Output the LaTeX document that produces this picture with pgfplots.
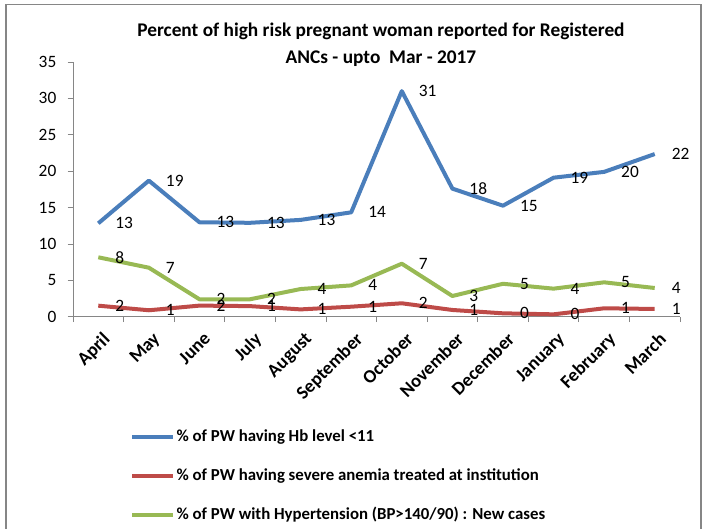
\documentclass[border=0pt]{standalone}
\usepackage{pgfplots}
\pgfplotsset{compat=1.18}
\usepackage{fontspec}
\setmainfont{Carlito}
\definecolor{cblue}{HTML}{4A7EBB}
\definecolor{cred}{HTML}{BE4B48}
\definecolor{cgreen}{HTML}{98B954}
\definecolor{caxis}{HTML}{868686}
\begin{document}
\begin{tikzpicture}
\path[use as bounding box] (-54.75pt,-158.5pt) rectangle (471.75pt,237.5pt);
\draw[caxis, line width=0.8pt] (-50.25pt,-160pt) -- (-50.25pt,233.8pt) -- (471pt,233.8pt) -- (471pt,-160pt);
\node[font=\fontsize{14.5}{20}\selectfont\bfseries, align=center] at (231pt,204pt)
  {Percent of high risk pregnant woman reported for Registered\\ANCs - upto\ \ Mar - 2017};
\begin{axis}[
  at={(0,0)}, anchor=south west,
  scale only axis, width=455.25pt, height=191pt,
  xmin=-0.5, xmax=11.5, ymin=0, ymax=35,
  axis x line*=bottom, axis y line*=left,
  axis line style={caxis, line width=0.6pt},
  tick style={caxis, line width=0.6pt},
  tick align=outside, major tick length=4pt,
  ytick={0,5,...,35},
  xtick={-0.5,0.5,...,11.5}, xticklabels={},
  extra x ticks={0,1,...,11},
  extra x tick labels={April,May,June,July,August,September,October,November,December,January,February,March},
  extra x tick style={major tick length=0pt, tick style={draw=none},
    tick label style={rotate=45, anchor=north east, font=\fontsize{14}{16}\selectfont\bfseries, xshift=-2.5pt, yshift=-6pt}},
  yticklabel style={font=\fontsize{13}{15}\selectfont, xshift=-5pt},
  /pgf/number format/assume math mode=true,
  every axis plot/.append style={line width=3pt, no markers, line join=round},
  nodes near coords={\pgfmathprintnumber[fixed,precision=0]{\pgfplotspointmeta}},
  every node near coord/.append style={anchor=west, xshift=8pt, font=\fontsize{13}{15}\selectfont, text=black},
  legend cell align=left,
  legend style={at={(0.094,-0.43)}, anchor=north west, draw=none, fill=none,
    font=\fontsize{12.6}{14}\selectfont\bfseries, row sep=13.8pt, inner sep=0pt,
    nodes={inner sep=1pt, text height=10pt, text depth=3.5pt}},
  legend image code/.code={\draw[#1, line width=3pt] (0pt,0pt) -- (30.75pt,0pt);},
  clip=false,
]
\addplot[cblue] coordinates {(0,12.83) (1,18.7) (2,12.97) (3,12.9) (4,13.3) (5,14.34) (6,31.0) (7,17.6) (8,15.25) (9,19.1) (10,19.9) (11,22.35)};
\addlegendentry{\% of PW having Hb level <11}
\addplot[cred] coordinates {(0,1.51) (1,0.88) (2,1.52) (3,1.45) (4,1.0) (5,1.37) (6,1.84) (7,0.92) (8,0.46) (9,0.32) (10,1.15) (11,1.06)};
\addlegendentry{\% of PW having severe anemia treated at institution}
\addplot[cgreen] coordinates {(0,8.16) (1,6.73) (2,2.39) (3,2.39) (4,3.8) (5,4.3) (6,7.28) (7,2.84) (8,4.52) (9,3.85) (10,4.72) (11,3.94)};
\addlegendentry{\% of PW with Hypertension (BP>140/90) : New cases}
\end{axis}
\end{tikzpicture}
\end{document}
